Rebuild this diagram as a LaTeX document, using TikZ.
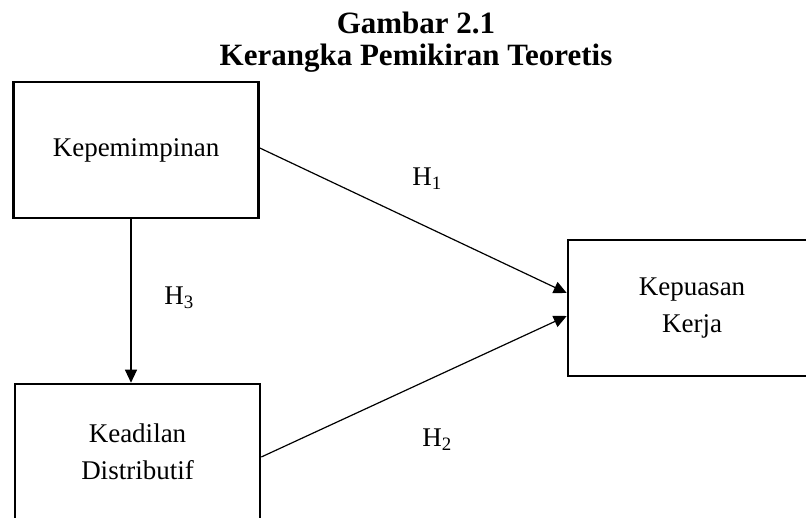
\documentclass[tikz,border=0pt]{standalone}
\usepackage{fontspec}
\setmainfont{Liberation Serif}
\usepackage{tikz}
\usetikzlibrary{arrows.meta}
\tikzstyle{varbox}=[rectangle,draw=black,line width=2.6pt,minimum width=245pt,minimum height=136pt,align=center,inner sep=0pt,font=\fontsize{27}{37}\selectfont]
\tikzstyle{inarrow}=[-{Triangle[length=13pt,width=12pt]},line width=1.2pt]
\tikzstyle{hyp}=[inner sep=0pt,font=\fontsize{27}{32}\selectfont]
\tikzstyle{judul}=[inner sep=0pt,anchor=base,font=\bfseries\fontsize{31}{36}\selectfont]
\pgfdeclarelayer{edgelayer}
\pgfdeclarelayer{nodelayer}
\pgfsetlayers{edgelayer,nodelayer,main}

\begin{document}
\begin{tikzpicture}[x=1pt,y=-1pt]
	\useasboundingbox (0,0) rectangle (806,517);
	\begin{pgfonlayer}{nodelayer}
		\node [style=judul] (T1) at (416, 33) {Gambar 2.1};
		\node [style=judul] (T2) at (416, 65) {Kerangka Pemikiran Teoretis};
		\node [style=varbox] (P) at (136, 150) {Kepemimpinan};
		\node [style=varbox] (D) at (137.5, 452) {Keadilan\\Distributif};
		\node [style=varbox, minimum width=248pt] (J) at (692, 308) {Kepuasan\\Kerja};
		\node [style=hyp] (h1) at (427, 179) {H\textsubscript{1}};
		\node [style=hyp] (h2) at (437, 440) {H\textsubscript{2}};
		\node [style=hyp] (h3) at (179, 298) {H\textsubscript{3}};
	\end{pgfonlayer}
	\begin{pgfonlayer}{edgelayer}
		\draw [style=inarrow] ([yshift=2pt]P.east) to ([yshift=15pt]J.west);
		\draw [style=inarrow] ([yshift=-5pt]D.east) to ([yshift=-8pt]J.west);
		\draw [style=inarrow] ([xshift=-5pt]P.south) to ([xshift=-5pt]P.south |- D.north);
	\end{pgfonlayer}
\end{tikzpicture}
\end{document}
